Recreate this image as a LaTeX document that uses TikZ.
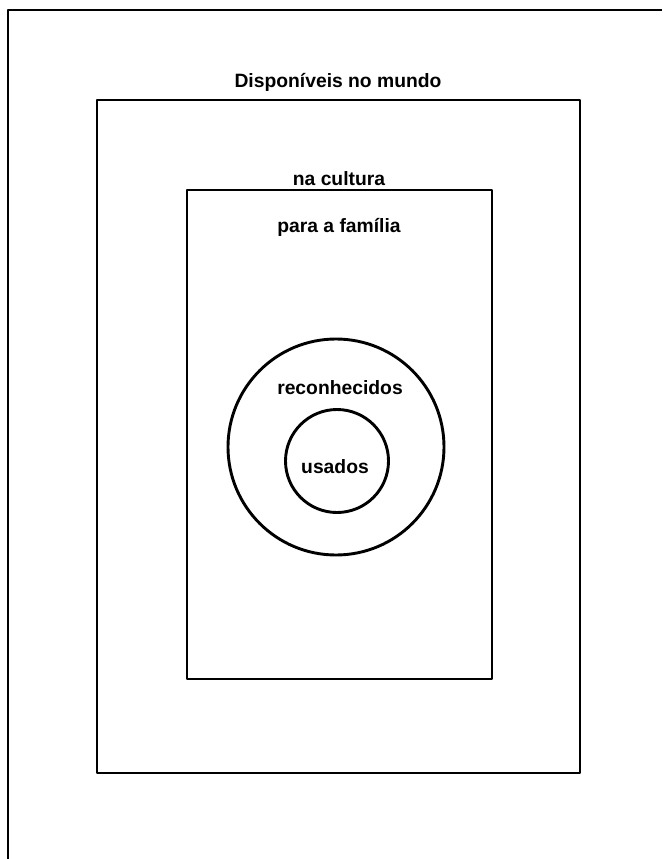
\documentclass[tikz,border=0pt]{standalone}
\usepackage{fontspec}
\setmainfont{Liberation Sans}
\begin{document}
\begin{tikzpicture}[x=1pt,y=-1pt,
  frame/.style={line width=2.9pt, line join=round},
  lbl/.style={font=\fontsize{19.3}{23}\selectfont\bfseries, anchor=base, inner sep=0pt}]
\useasboundingbox (0,0) rectangle (662,859);
\fill[white] (0,0) rectangle (662,859);
% outer page frame (left and top only)
\coordinate (pf1) at (8,859);
\coordinate (pf2) at (8,10);
\coordinate (pf3) at (662,10);
\draw[frame] (pf1) -- (pf2) -- (pf3);
% boxes
\node[frame, draw, minimum width=483pt, minimum height=673pt, inner sep=0pt] (mundo) at (338.5,436.5) {};
\node[frame, draw, minimum width=305pt, minimum height=489pt, inner sep=0pt] (cultura) at (339.5,434.5) {};
% circles
\node[frame, draw, circle, minimum size=216pt, inner sep=0pt] (rec) at (336,447) {};
\node[frame, draw, circle, minimum size=103pt, inner sep=0pt] (uso) at (337,461) {};
% labels
\node[lbl] (t1) at (338,88) {Disponíveis no mundo};
\node[lbl] (t2) at (339,185) {na cultura};
\node[lbl] (t3) at (339,232) {para a família};
\node[lbl] (t4) at (340,394) {reconhecidos};
\node[lbl] (t5) at (335,473) {usados};
\end{tikzpicture}
\end{document}
